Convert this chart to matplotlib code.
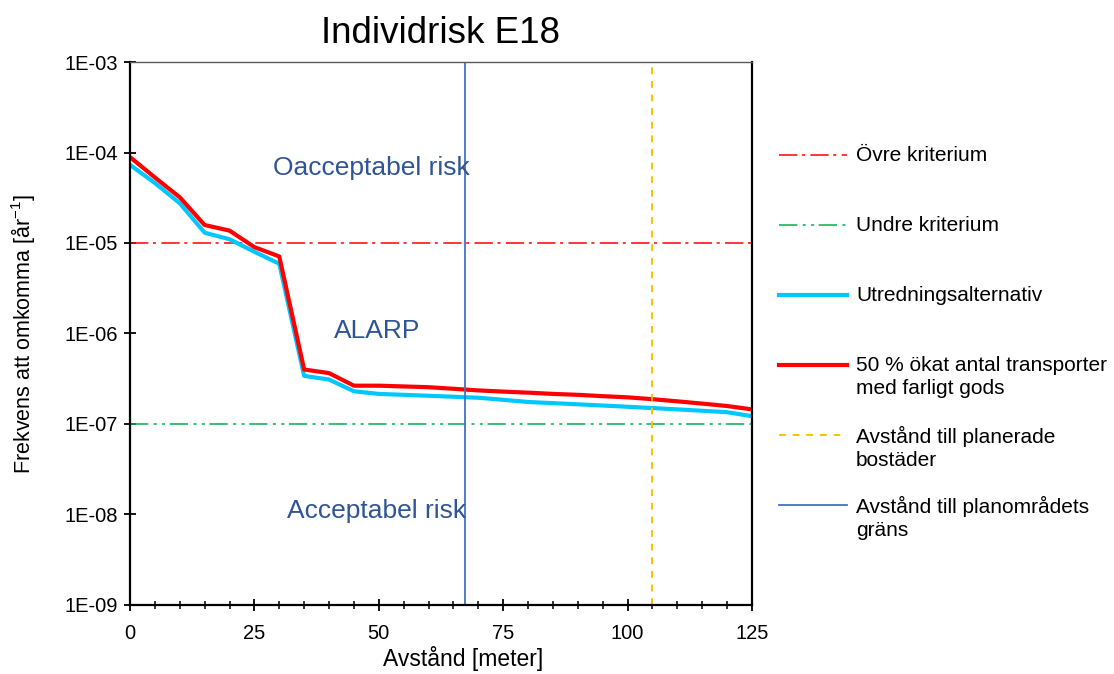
import matplotlib
matplotlib.use("Agg")
import matplotlib.pyplot as plt
from matplotlib.ticker import MultipleLocator, FixedLocator
from matplotlib.lines import Line2D

plt.rcParams['font.family'] = ['Liberation Sans', 'DejaVu Sans']
plt.rcParams['mathtext.fontset'] = 'custom'
plt.rcParams['mathtext.rm'] = 'Liberation Sans'
plt.rcParams['mathtext.it'] = 'Liberation Sans'

# ---- data ----
avstand = [0, 5, 10, 15, 20, 25, 30, 35, 40, 45, 50, 55, 60, 65, 70, 75, 80,
           85, 90, 95, 100, 105, 110, 115, 120, 125]
utredning = [7.3e-5, 4.6e-5, 2.75e-5, 1.3e-5, 1.1e-5, 8.0e-6, 5.9e-6, 3.4e-7,
             3.1e-7, 2.3e-7, 2.15e-7, 2.1e-7, 2.05e-7, 2.0e-7, 1.95e-7, 1.85e-7,
             1.75e-7, 1.7e-7, 1.65e-7, 1.6e-7, 1.55e-7, 1.5e-7, 1.45e-7, 1.4e-7,
             1.35e-7, 1.22e-7]
okat_50 = [8.9e-5, 5.3e-5, 3.2e-5, 1.58e-5, 1.37e-5, 9.0e-6, 7.1e-6, 4.0e-7,
           3.65e-7, 2.65e-7, 2.65e-7, 2.6e-7, 2.55e-7, 2.45e-7, 2.35e-7, 2.28e-7,
           2.22e-7, 2.15e-7, 2.1e-7, 2.03e-7, 1.97e-7, 1.88e-7, 1.78e-7, 1.68e-7,
           1.58e-7, 1.45e-7]
ovre_kriterium = 1e-5
undre_kriterium = 1e-7
avst_bostader = 105
avst_planomrade = 67.3

region_labels = ["Oacceptabel risk", "ALARP", "Acceptabel risk"]
region_x = [48.6, 49.6, 49.6]
region_y = [6.7e-5, 1.07e-6, 1.1e-8]

y_ticks = [1e-9, 1e-8, 1e-7, 1e-6, 1e-5, 1e-4, 1e-3]
y_ticklabels = ["1E-09", "1E-08", "1E-07", "1E-06", "1E-05", "1E-04", "1E-03"]

legend_labels = ["Övre kriterium", "Undre kriterium", "Utredningsalternativ",
                 "50 % ökat antal transporter\nmed farligt gods",
                 "Avstånd till planerade\nbostäder",
                 "Avstånd till planområdets\ngräns"]

# ---- styles ----
c_red = "#FF0000"
c_green = "#00B050"
c_cyan = "#00C8FF"
c_yellow = "#FFC000"
c_blue = "#4472C4"
c_text = "#2F5597"
ls_ovre = (0, (12, 3, 2, 3.5))
ls_undre = (0, (12, 3.5, 2, 3.5, 2, 3))
ls_bost = (0, (3.5, 3.5))

fig = plt.figure(figsize=(11.14, 6.74), dpi=100)
ax = fig.add_axes([0.1167, 0.1024, 0.5583, 0.8056])

ax.axhline(ovre_kriterium, color=c_red, lw=1.1, ls=ls_ovre)
ax.axhline(undre_kriterium, color=c_green, lw=1.1, ls=ls_undre)
ax.plot(avstand, utredning, color=c_cyan, lw=3)
ax.plot(avstand, okat_50, color=c_red, lw=3)
ax.axvline(avst_bostader, color=c_yellow, lw=1.4, ls=ls_bost)
ax.axvline(avst_planomrade, color=c_blue, lw=1.3)

for lab, x, y in zip(region_labels, region_x, region_y):
    ax.text(x, y, lab, color=c_text, fontsize=19, ha="center", va="center")

ax.set_yscale("log")
ax.set_xlim(0, 125)
ax.set_ylim(1e-9, 1e-3)
ax.yaxis.set_major_locator(FixedLocator(y_ticks))
ax.set_yticklabels(y_ticklabels)
ax.yaxis.set_minor_locator(FixedLocator([]))
ax.xaxis.set_major_locator(MultipleLocator(25))
ax.xaxis.set_minor_locator(MultipleLocator(5))
ax.tick_params(axis="both", which="major", direction="inout", length=9, width=1.3,
               labelsize=14.5)
ax.tick_params(axis="y", which="major", pad=4)
ax.tick_params(axis="x", which="major", pad=9)
ax.tick_params(axis="x", which="minor", direction="inout", length=6, width=1.1)

for side in ["left", "bottom", "right"]:
    ax.spines[side].set_linewidth(1.6)
    ax.spines[side].set_color("black")
ax.spines["top"].set_linewidth(1.0)
ax.spines["top"].set_color("#595959")

ax.set_xlabel("Avstånd [meter]", fontsize=16.5)
ax.xaxis.set_label_coords(0.535, -0.076)
ax.set_ylabel("Frekvens att omkomma [år$^{-1}$]", fontsize=15.5, labelpad=20)
ax.set_title("Individrisk E18", fontsize=26.5, pad=14)

# ---- legend (drawn by hand, entries aligned to first text line) ----
lax = fig.add_axes([0, 0, 1, 1])
lax.set_xlim(0, 1114)
lax.set_ylim(674, 0)
lax.axis("off")
legend_styles = [
    dict(color=c_red, lw=1.1, ls=ls_ovre),
    dict(color=c_green, lw=1.1, ls=ls_undre),
    dict(color=c_cyan, lw=3),
    dict(color=c_red, lw=3),
    dict(color=c_yellow, lw=1.4, ls=ls_bost),
    dict(color=c_blue, lw=1.3),
]
row_y = [155, 225, 295, 365, 435, 505]
for lab, st, yy in zip(legend_labels, legend_styles, row_y):
    lax.add_line(Line2D([779, 847], [yy, yy], **st))
    lax.text(856, yy - 9, lab, fontsize=15, va="top", ha="left",
             linespacing=1.27)

fig.savefig("out.png", dpi=100)
